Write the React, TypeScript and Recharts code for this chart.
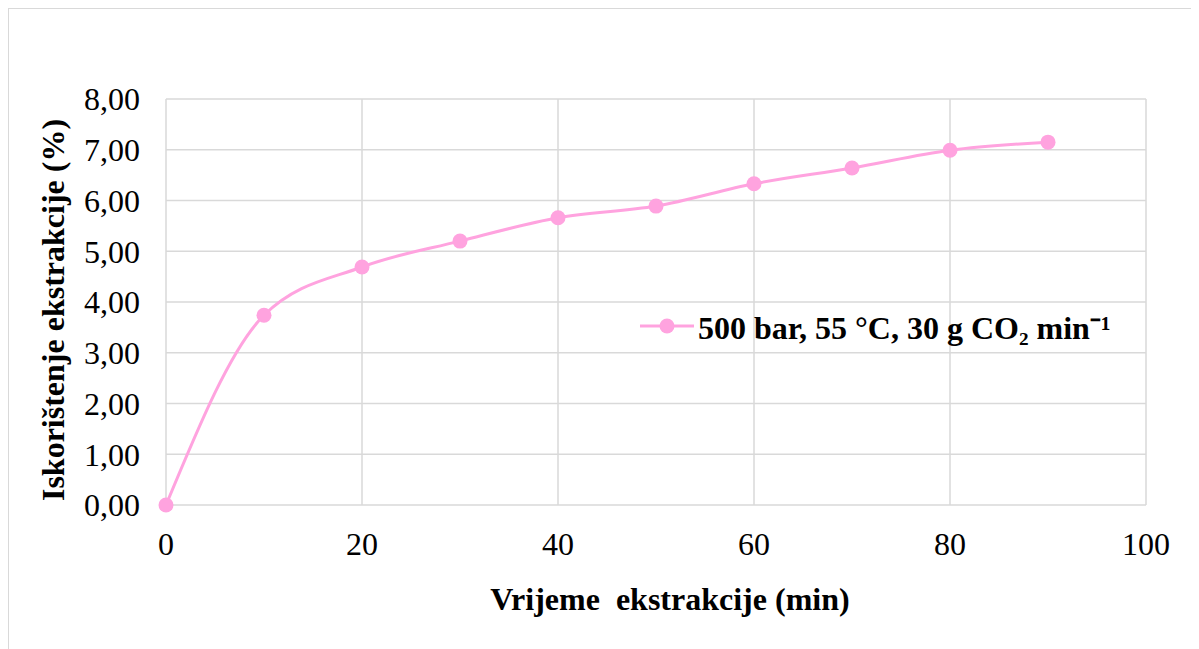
import { LineChart, Line, XAxis, YAxis, CartesianGrid, Label } from 'recharts';

const times = [0, 10, 20, 30, 40, 50, 60, 70, 80, 90];
const yieldValues = [0, 3.74, 4.69, 5.2, 5.66, 5.89, 6.33, 6.64, 6.99, 7.15];
const xTicks = [0, 20, 40, 60, 80, 100];
const yTicks = [0, 1, 2, 3, 4, 5, 6, 7, 8];
const seriesName = '500 bar, 55 °C, 30 g CO₂ min⁻¹';

const data = times.map((t, i) => ({ t, y: yieldValues[i] }));

const FONT = '"Liberation Serif", "Times New Roman", serif';
const PINK = '#FFA3DF';
const GRID = '#d9d9d9';

const fmt = (v: number) => v.toFixed(2).replace('.', ',');

export default function App() {
  return (
    <div
      style={{
        position: 'relative',
        boxSizing: 'border-box',
        width: 1191,
        height: 650,
        marginLeft: -1,
        marginTop: -1,
        borderTop: `2px solid ${GRID}`,
        borderLeft: `2px solid ${GRID}`,
        borderRight: `2px solid ${GRID}`,
        background: '#fff',
      }}
    >
      <LineChart
        width={1180}
        height={640}
        data={data}
        margin={{ top: 90, right: 43, bottom: 0, left: 0 }}
        style={{ fontFamily: FONT }}
      >
        <CartesianGrid stroke={GRID} strokeWidth={1.5} />
        <XAxis
          dataKey="t"
          type="number"
          domain={[0, 100]}
          ticks={xTicks}
          axisLine={false}
          tickLine={false}
          tickSize={0}
          tickMargin={27}
          height={144}
          tick={{ fill: '#000', fontSize: 32, fontFamily: FONT }}
        >
          <Label
            value={'Vrijeme\u00a0 ekstrakcije (min)'}
            position="insideTop"
            offset={82}
            dx={14}
            style={{ fill: '#000', fontSize: 32, fontWeight: 'bold', fontFamily: FONT }}
          />
        </XAxis>
        <YAxis
          type="number"
          domain={[0, 8]}
          ticks={yTicks}
          axisLine={false}
          tickLine={false}
          tickSize={0}
          tickMargin={26}
          width={157}
          tickFormatter={fmt}
          tick={{ fill: '#000', fontSize: 32, fontFamily: FONT }}
        >
          <Label
            value="Iskorištenje ekstrakcije (%)"
            angle={-90}
            position="insideLeft"
            offset={44}
            textAnchor="middle"
            dy={8}
            style={{ fill: '#000', fontSize: 32, fontWeight: 'bold', fontFamily: FONT, textAnchor: 'middle' }}
          />
        </YAxis>
        <Line
          type="monotone"
          dataKey="y"
          name={seriesName}
          stroke={PINK}
          strokeWidth={3}
          dot={{ r: 7.5, fill: PINK, stroke: PINK, strokeWidth: 0 }}
          activeDot={false}
          isAnimationActive={false}
        />
      </LineChart>
      <div
        style={{
          position: 'absolute',
          left: 631,
          top: 297,
          height: 40,
          display: 'flex',
          alignItems: 'center',
          fontFamily: FONT,
          fontWeight: 'bold',
          fontSize: 32,
          color: '#000',
          whiteSpace: 'nowrap',
        }}
      >
        <svg width={54} height={20} style={{ marginRight: 4 }}>
          <line x1={0} y1={10} x2={54} y2={10} stroke={PINK} strokeWidth={3} />
          <circle cx={27} cy={10} r={7.5} fill={PINK} />
        </svg>
        <span>{seriesName}</span>
      </div>
    </div>
  );
}
